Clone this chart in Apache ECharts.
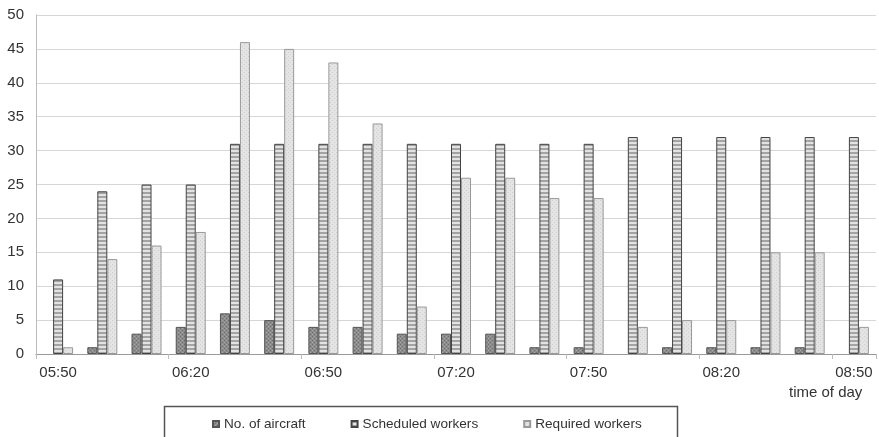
<!DOCTYPE html>
<html>
<head>
<meta charset="utf-8">
<script src="https://cdn.jsdelivr.net/npm/echarts@6/dist/echarts.min.js"></script>
<style>
	html, body { margin: 0; padding: 0; background: #fff; }
	#chart { width: 879px; height: 437px; }
</style>
</head>
<body>
<div id="chart"></div>
<script>
var categories = ['05:50', '06:00', '06:10', '06:20', '06:30', '06:40', '06:50', '07:00', '07:10', '07:20',
	'07:30', '07:40', '07:50', '08:00', '08:10', '08:20', '08:30', '08:40', '08:50']
var aircraft = [0, 1, 3, 4, 6, 5, 4, 4, 3, 3, 3, 1, 1, 0, 1, 1, 1, 1, 0]
var scheduled = [11, 24, 25, 25, 31, 31, 31, 31, 31, 31, 31, 31, 31, 32, 32, 32, 32, 32, 32]
var required = [1, 14, 16, 18, 46, 45, 43, 34, 7, 26, 26, 23, 23, 4, 5, 5, 15, 15, 4]
var yTicks = { min: 0, max: 50, interval: 5 }

var FONT = 'Liberation Sans, Arial, sans-serif'

// small canvas patterns to mimic the print hatching
function makePattern(w, h, draw) {
	var c = document.createElement('canvas')
	c.width = w
	c.height = h
	draw(c.getContext('2d'))
	return { image: c, repeat: 'repeat' }
}
var hatchDark = makePattern(4, 4, function (ctx) {
	ctx.fillStyle = '#8c8c8c'
	ctx.fillRect(0, 0, 4, 4)
	ctx.fillStyle = '#6e6e6e'
	ctx.fillRect(0, 0, 1, 1)
	ctx.fillRect(2, 2, 1, 1)
	ctx.fillStyle = '#a6a6a6'
	ctx.fillRect(2, 0, 1, 1)
	ctx.fillRect(0, 2, 1, 1)
})
var stripes = makePattern(4, 4, function (ctx) {
	ctx.fillStyle = '#e2e2e2'
	ctx.fillRect(0, 0, 4, 4)
	ctx.fillStyle = '#a3a3a3'
	ctx.fillRect(0, 0, 4, 2)
})
var dots = makePattern(4, 4, function (ctx) {
	ctx.fillStyle = '#e4e4e4'
	ctx.fillRect(0, 0, 4, 4)
	ctx.fillStyle = '#cfcfcf'
	ctx.fillRect(0, 0, 1, 1)
	ctx.fillRect(2, 2, 1, 1)
})

// zero-height bars should not leave a border line on the axis
function noZeroBorder(arr) {
	return arr.map(function (v) {
		return v === 0 ? { value: v, itemStyle: { borderWidth: 0 } } : v
	})
}

var chart = echarts.init(document.getElementById('chart'))
chart.setOption({
	animation: false,
	textStyle: { fontFamily: FONT },
	grid: {
		left: 36,
		right: 3,
		top: 15,
		bottom: 83
	},
	legend: {
		left: 207,
		top: 412,
		itemWidth: 6,
		itemHeight: 6,
		itemGap: 45,
		icon: 'rect',
		textStyle: { fontSize: 13.6, color: '#333' },
		data: ['No. of aircraft', 'Scheduled workers', 'Required workers']
	},
	graphic: [
		{
			type: 'rect',
			shape: { x: 164.5, y: 406.5, width: 513, height: 60 },
			style: { fill: 'none', stroke: '#555', lineWidth: 1.5 }
		},
		{
			type: 'text',
			left: 789,
			top: 385,
			style: { text: 'time of day', fontSize: 15, fill: '#333', fontFamily: FONT }
		}
	],
	xAxis: {
		type: 'category',
		data: categories,
		axisLine: { lineStyle: { color: '#999' } },
		axisTick: { show: true, lineStyle: { color: '#bbb' } },
		axisLabel: {
			interval: 2,
			fontSize: 15,
			color: '#333',
			margin: 11
		}
	},
	yAxis: {
		type: 'value',
		min: yTicks.min,
		max: yTicks.max,
		interval: yTicks.interval,
		axisLine: { show: true, lineStyle: { color: '#bbb' } },
		axisTick: { show: false },
		axisLabel: { fontSize: 15, color: '#333', margin: 12 },
		splitLine: { lineStyle: { color: '#d6d6d6' } }
	},
	series: [
		{
			name: 'No. of aircraft',
			type: 'bar',
			data: noZeroBorder(aircraft),
			barWidth: 10,
			barGap: '0%',
			itemStyle: { color: hatchDark, borderColor: '#555', borderWidth: 1 }
		},
		{
			name: 'Scheduled workers',
			type: 'bar',
			data: scheduled,
			barWidth: 10,
			barGap: '0%',
			itemStyle: { color: stripes, borderColor: '#444', borderWidth: 1 }
		},
		{
			name: 'Required workers',
			type: 'bar',
			data: required,
			barWidth: 10,
			barGap: '0%',
			itemStyle: { color: dots, borderColor: '#999', borderWidth: 1 }
		}
	]
})
</script>
</body>
</html>
